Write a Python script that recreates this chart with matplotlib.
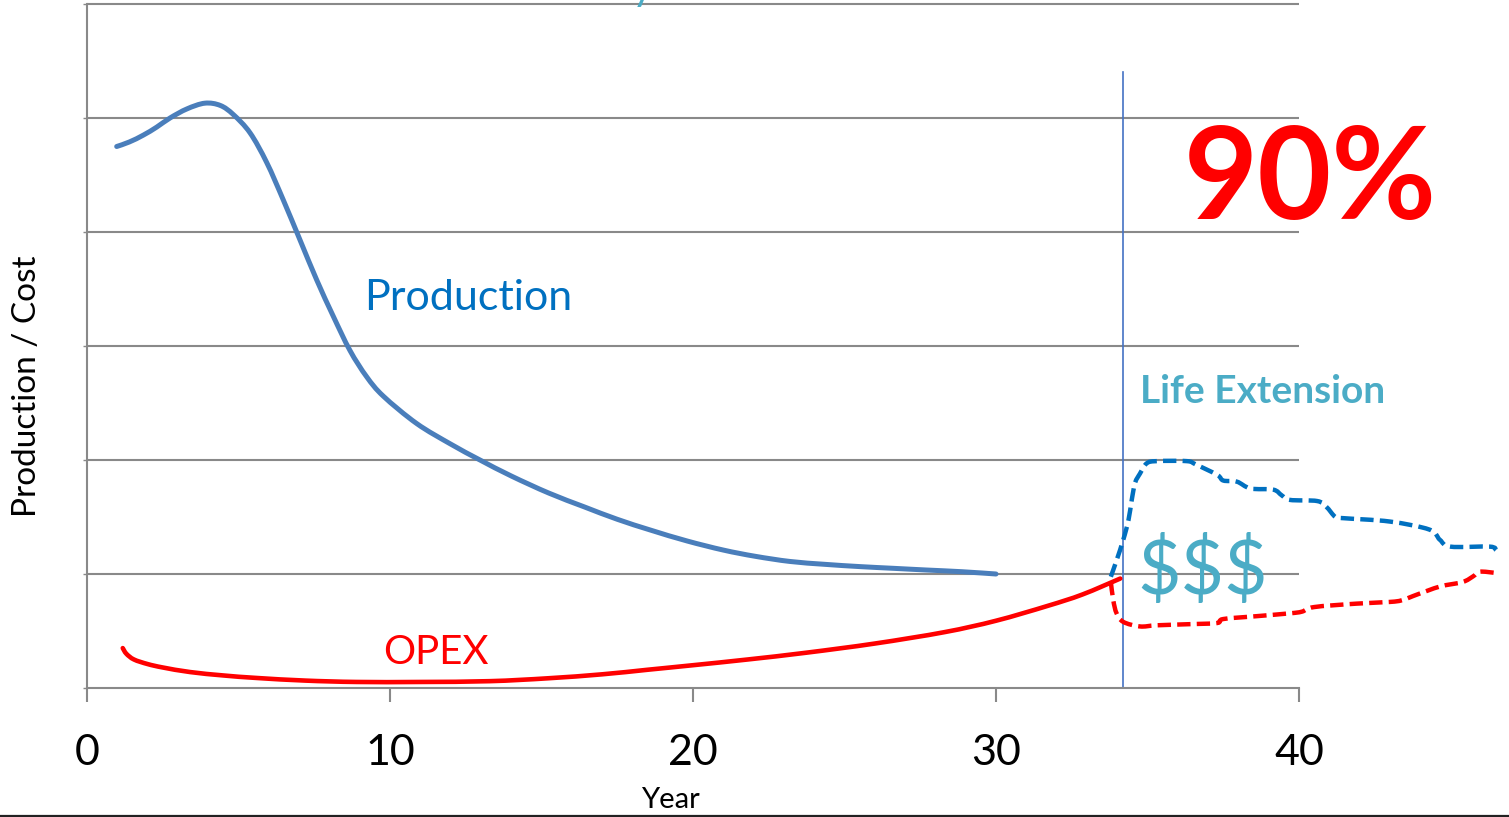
import matplotlib
matplotlib.use("Agg")
import matplotlib.pyplot as plt
from matplotlib.lines import Line2D
from matplotlib.path import Path
from matplotlib.patches import PathPatch

plt.rcParams['font.family'] = ['Lato', 'DejaVu Sans']

# Field production over its design life (arbitrary units)
prod_years = [0.98, 1.4, 1.86, 2.3, 2.74, 3.3, 3.89, 4.4, 4.83, 5.38, 5.93, 6.48,
              7.03, 7.58, 8.13, 8.68, 9.23, 9.78, 10.88, 12.0, 12.97, 14.0, 15.24,
              16.4, 17.5, 18.6, 19.8, 21.0, 22.06, 23.2, 24.34, 25.5, 26.6, 27.7,
              28.88, 30.0]
production = [4.75, 4.79, 4.85, 4.92, 5.0, 5.08, 5.13, 5.11, 5.03, 4.87, 4.61, 4.28,
              3.93, 3.58, 3.26, 2.96, 2.73, 2.56, 2.32, 2.14, 2.0, 1.86, 1.71,
              1.59, 1.48, 1.385, 1.29, 1.21, 1.155, 1.11, 1.085, 1.065, 1.05, 1.035,
              1.02, 1.0]

# Operating expenditure
opex_years = [1.18, 1.3, 1.55, 2.0, 2.5, 3.4, 4.5, 5.6, 7.2, 8.9, 11.0, 13.3, 15.2,
              17.0, 18.5, 20.0, 21.8, 23.75, 26.0, 28.3, 30.0, 31.7, 32.85, 34.1]
opex = [0.35, 0.30, 0.25, 0.21, 0.18, 0.14, 0.11, 0.088, 0.065, 0.053, 0.053, 0.06,
        0.085, 0.12, 0.16, 0.20, 0.25, 0.31, 0.39, 0.49, 0.59, 0.72, 0.82, 0.96]

# Life-extension scenario: production
ext_prod_years = [33.79, 33.98, 34.2, 34.37, 34.48, 34.59, 34.75, 34.97, 35.3, 36.3,
                  36.6, 37.3, 37.5, 37.95, 38.4, 39.15, 39.43, 39.7, 40.6, 40.9,
                  41.2, 41.45, 43.0, 44.3, 44.65, 45.0, 46.3, 46.5]
ext_production = [0.976, 1.12, 1.30, 1.47, 1.65, 1.80, 1.88, 1.97, 1.99, 1.99,
                  1.96, 1.87, 1.82, 1.81, 1.75, 1.74, 1.69, 1.65, 1.64, 1.59,
                  1.50, 1.49, 1.46, 1.39, 1.30, 1.24, 1.24, 1.21]

# Life-extension scenario: OPEX
ext_opex_years = [33.79, 33.87, 33.98, 34.2, 34.75, 35.3, 36.4, 37.3, 37.5, 38.6,
                  39.7, 40.1, 40.5, 41.9, 43.0, 43.4, 43.9, 44.65, 45.4, 45.75,
                  45.97, 46.47]
ext_opex = [0.93, 0.77, 0.655, 0.58, 0.54, 0.55, 0.56, 0.57, 0.605, 0.63,
            0.655, 0.67, 0.71, 0.74, 0.755, 0.77, 0.82, 0.89, 0.93, 0.98,
            1.02, 1.01]

x_ticks = [0, 10, 20, 30, 40]
grid_levels = [1, 2, 3, 4, 5, 6]
decision_year = 34.2
decision_top = 5.4

GRID = '#898989'
PROD_BLUE = '#4A7EBB'
DASH_BLUE = '#0070C0'
RED = '#FF0000'
TEAL = '#4BACC6'


def smooth_path(xs, ys):
    """Smoothed (Catmull-Rom style) Bezier path through the given points."""
    pts = list(zip(xs, ys))
    n = len(pts)
    verts = [pts[0]]
    codes = [Path.MOVETO]
    for i in range(n - 1):
        p0 = pts[max(i - 1, 0)]
        p1 = pts[i]
        p2 = pts[i + 1]
        p3 = pts[min(i + 2, n - 1)]
        c1 = (p1[0] + (p2[0] - p0[0]) / 6, p1[1] + (p2[1] - p0[1]) / 6)
        c2 = (p2[0] - (p3[0] - p1[0]) / 6, p2[1] - (p3[1] - p1[1]) / 6)
        verts += [c1, c2, p2]
        codes += [Path.CURVE4] * 3
    return Path(verts, codes)


def draw_curve(ax, xs, ys, color, lw, ls='-', clip=True):
    patch = PathPatch(smooth_path(xs, ys), facecolor='none', edgecolor=color,
                      linewidth=lw, linestyle=ls, capstyle='round' if ls == '-' else 'butt',
                      joinstyle='round', zorder=3)
    patch.set_clip_on(clip)
    ax.add_patch(patch)


W, H = 1509, 817
fig = plt.figure(figsize=(W / 100, H / 100), dpi=100)
ax = fig.add_axes([87 / W, 129 / H, (1299 - 87) / W, (688 - 4) / H])
ax.set_xlim(0, 40)
ax.set_ylim(0, 6)

# axes frame and grid
for side in ('top', 'right'):
    ax.spines[side].set_visible(False)
for side in ('left', 'bottom'):
    ax.spines[side].set_color(GRID)
    ax.spines[side].set_linewidth(1.5)
ax.hlines(grid_levels, 0, 40, colors=GRID, linewidth=1.5, clip_on=False, zorder=1)

ax.set_xticks(x_ticks)
ax.set_xticklabels([str(t) for t in x_ticks])
ax.tick_params(axis='x', length=10, width=1.5, color=GRID, labelsize=31, pad=23)
ax.set_yticks([0] + grid_levels)
ax.set_yticklabels([])
ax.tick_params(axis='y', length=3, width=1, color=GRID)

# curves
draw_curve(ax, prod_years, production, PROD_BLUE, 3.6)
draw_curve(ax, opex_years, opex, RED, 3.3)
ax.plot([decision_year, decision_year], [0, decision_top], color='#4472C4', lw=1.2,
        zorder=2)
draw_curve(ax, ext_prod_years, ext_production, DASH_BLUE, 3.2, ls=(0, (3.0, 1.4)),
           clip=False)
draw_curve(ax, ext_opex_years, ext_opex, RED, 3.2, ls=(0, (3.0, 1.4)), clip=False)

# annotations
ax.text(9.15, 3.42, 'Production', color=DASH_BLUE, fontsize=31, ha='left', va='center')
ax.text(9.77, 0.31, 'OPEX', color=RED, fontsize=29, ha='left', va='center')
ax.text(34.75, 2.6, 'Life Extension', color=TEAL, fontsize=28, fontweight='bold',
        ha='left', va='center', clip_on=False)
ax.text(34.65, 1.02, '$$$', color=TEAL, fontsize=54, ha='left', va='center')

fig.text(1310 / W, 1 - 182 / H, '90%', color=RED, fontsize=92, fontweight='bold',
         ha='center', va='center')

fig.text(670 / W, 1 - 800 / H, 'Year', color='black', fontsize=21, ha='center',
         va='center')
fig.text(27 / W, 1 - 386 / H, 'Production / Cost', color='black', fontsize=24,
         rotation=90, ha='center', va='center')

# descender of the heading line above the plot
fig.text(632 / W, 1 + 0.0 / H, 'y', color=TEAL, fontsize=30, ha='left',
         va='baseline')

# bottom frame line
fig.add_artist(Line2D([0, 1], [1.2 / H, 1.2 / H], color='#222222', lw=1.6,
                      transform=fig.transFigure))

fig.savefig('out.png', dpi=100)
